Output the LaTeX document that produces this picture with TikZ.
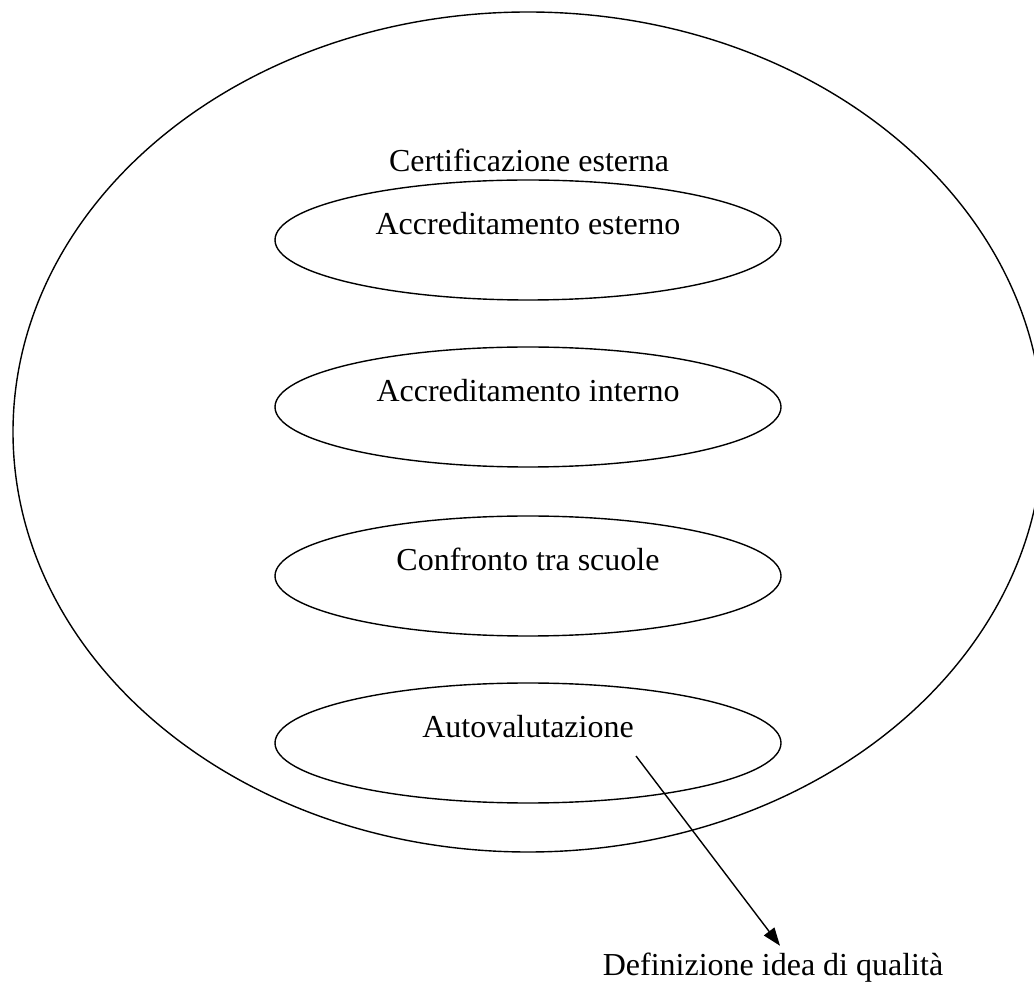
\documentclass[tikz,border=0pt]{standalone}
\usepackage{fontspec}
\setmainfont{Liberation Serif}
\usepackage{xcolor}
\usepackage{tikz}
\usetikzlibrary{shapes.geometric,arrows.meta}

\begin{document}
\begin{tikzpicture}[x=0.5pt,y=0.5pt,line width=0.7pt,
	every node/.style={font=\fontsize{16}{19}\selectfont},
	box/.style={draw,ellipse,minimum width=253pt,minimum height=60pt,inner sep=0pt,text height=11pt,text depth=16pt}]
	\clip (0,0) rectangle (1034,981);
	
	\draw (528,549) ellipse [x radius=515,y radius=420];
	\node[anchor=base] (cert) at (529,809) {Certificazione esterna};
	
	\foreach \y/\t [count=\i] in {741/Accreditamento esterno,574/Accreditamento interno,405/Confronto tra scuole,238/Autovalutazione}{
		\node[box] (e\i) at (528,\y) {\t};
	}
	
	\node[anchor=base,inner sep=3pt] (qual) at (773,6) {Definizione idea di qualità};
	\coordinate (s) at (636,225);
	\draw[-{Triangle[length=9pt,width=6.5pt]}] (s) -- ([xshift=3.5pt]qual.north);
	
\end{tikzpicture}
\end{document}
